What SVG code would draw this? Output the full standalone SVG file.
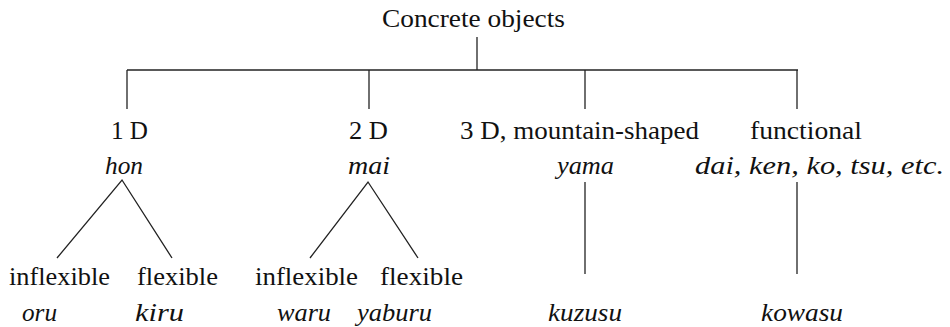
<svg xmlns="http://www.w3.org/2000/svg" width="950" height="327" viewBox="0 0 950 327">
<style>
text{font-family:'Liberation Serif','Times New Roman','DejaVu Serif',serif;font-size:25px;fill:#111}
.i{font-style:italic}
.c{stroke:#222;stroke-width:1.3;fill:none}
</style>
<rect width="950" height="327" fill="#fff"/>
<g id="connectors" class="c">
<line x1="477" y1="37" x2="477" y2="70"/>
<line x1="127" y1="70" x2="798" y2="70"/>
<line x1="127" y1="70" x2="127" y2="109"/>
<line x1="369" y1="70" x2="369" y2="109"/>
<line x1="585" y1="70" x2="585" y2="109"/>
<line x1="797" y1="70" x2="797" y2="109"/>
<polyline points="57,258 122,180 172,258"/>
<polyline points="310,258 368,182 418,258"/>
<line x1="585" y1="182" x2="585" y2="274"/>
<line x1="797" y1="182" x2="797" y2="274"/>
</g>
<g font-family="'Liberation Serif', 'DejaVu Serif', serif">
<g id="root"><text x="382" y="27" textLength="183" lengthAdjust="spacingAndGlyphs">Concrete objects</text></g>
<g id="n1d">
<text x="111" y="139" textLength="37" lengthAdjust="spacingAndGlyphs">1 D</text>
<text class="i" x="105" y="174" textLength="38" lengthAdjust="spacingAndGlyphs">hon</text>
</g>
<g id="n2d">
<text x="349" y="139" textLength="39" lengthAdjust="spacingAndGlyphs">2 D</text>
<text class="i" x="348" y="174" textLength="42" lengthAdjust="spacingAndGlyphs">mai</text>
</g>
<g id="n3d">
<text x="460" y="139" textLength="239" lengthAdjust="spacingAndGlyphs">3 D, mountain-shaped</text>
<text class="i" x="557" y="174" textLength="57" lengthAdjust="spacingAndGlyphs">yama</text>
</g>
<g id="nfunc">
<text x="750" y="139" textLength="112" lengthAdjust="spacingAndGlyphs">functional</text>
<text class="i" x="695" y="174" textLength="249" lengthAdjust="spacingAndGlyphs">dai, ken, ko, tsu, etc.</text>
</g>
<g id="ninf1">
<text x="9" y="285" textLength="101" lengthAdjust="spacingAndGlyphs">inflexible</text>
<text class="i" x="22" y="321" textLength="35" lengthAdjust="spacingAndGlyphs">oru</text>
</g>
<g id="nflex1">
<text x="137" y="285" textLength="81" lengthAdjust="spacingAndGlyphs">flexible</text>
<text class="i" x="135" y="321" textLength="49" lengthAdjust="spacingAndGlyphs">kiru</text>
</g>
<g id="ninf2">
<text x="255" y="285" textLength="103" lengthAdjust="spacingAndGlyphs">inflexible</text>
<text class="i" x="277" y="321" textLength="54" lengthAdjust="spacingAndGlyphs">waru</text>
</g>
<g id="nflex2">
<text x="380" y="285" textLength="83" lengthAdjust="spacingAndGlyphs">flexible</text>
<text class="i" x="357" y="321" textLength="75" lengthAdjust="spacingAndGlyphs">yaburu</text>
</g>
<g id="nkuzusu"><text class="i" x="548" y="321" textLength="74" lengthAdjust="spacingAndGlyphs">kuzusu</text></g>
<g id="nkowasu"><text class="i" x="761" y="321" textLength="82" lengthAdjust="spacingAndGlyphs">kowasu</text></g>
</g>
</svg>
